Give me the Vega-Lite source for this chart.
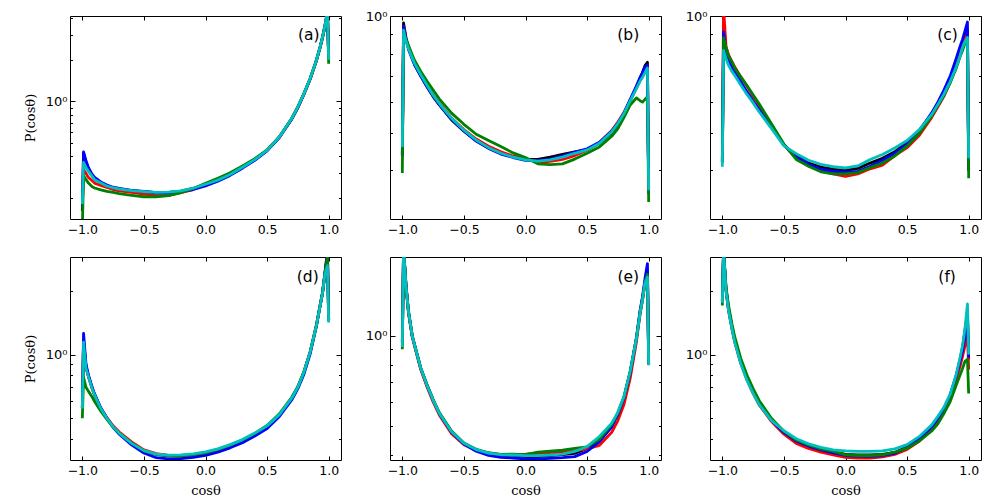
{
"$schema":"https://vega.github.io/schema/vega-lite/v6.json",
"autosize":{"type":"none"},
"padding":{"left":70,"top":16,"right":930,"bottom":484},
"datasets":{
"a":[
{"x":-1,"k":0.16,"r":0.17,"b":0.17,"g":0.12,"c":0.18},
{"x":-0.99,"k":0.42,"r":0.32,"b":0.43,"g":0.29,"c":0.36},
{"x":-0.97,"k":0.36,"r":0.3,"b":0.37,"g":0.27,"c":0.33},
{"x":-0.95,"k":0.32,"r":0.28,"b":0.33,"g":0.255,"c":0.31},
{"x":-0.92,"k":0.29,"r":0.265,"b":0.295,"g":0.24,"c":0.285},
{"x":-0.9,"k":0.275,"r":0.255,"b":0.28,"g":0.235,"c":0.27},
{"x":-0.85,"k":0.255,"r":0.245,"b":0.26,"g":0.228,"c":0.255},
{"x":-0.8,"k":0.243,"r":0.237,"b":0.247,"g":0.222,"c":0.243},
{"x":-0.75,"k":0.236,"r":0.229,"b":0.238,"g":0.218,"c":0.236},
{"x":-0.7,"k":0.231,"r":0.224,"b":0.233,"g":0.214,"c":0.231},
{"x":-0.6,"k":0.225,"r":0.218,"b":0.226,"g":0.208,"c":0.225},
{"x":-0.5,"k":0.221,"r":0.212,"b":0.222,"g":0.203,"c":0.221},
{"x":-0.4,"k":0.217,"r":0.207,"b":0.217,"g":0.203,"c":0.218},
{"x":-0.3,"k":0.218,"r":0.208,"b":0.216,"g":0.207,"c":0.219},
{"x":-0.2,"k":0.223,"r":0.217,"b":0.221,"g":0.217,"c":0.224},
{"x":-0.1,"k":0.233,"r":0.229,"b":0.229,"g":0.233,"c":0.234},
{"x":0,"k":0.249,"r":0.247,"b":0.243,"g":0.254,"c":0.25},
{"x":0.1,"k":0.268,"r":0.268,"b":0.263,"g":0.276,"c":0.268},
{"x":0.2,"k":0.295,"r":0.296,"b":0.29,"g":0.303,"c":0.294},
{"x":0.3,"k":0.333,"r":0.333,"b":0.327,"g":0.34,"c":0.332},
{"x":0.4,"k":0.378,"r":0.378,"b":0.373,"g":0.383,"c":0.377},
{"x":0.5,"k":0.44,"r":0.44,"b":0.437,"g":0.443,"c":0.44},
{"x":0.6,"k":0.55,"r":0.548,"b":0.545,"g":0.552,"c":0.55},
{"x":0.7,"k":0.75,"r":0.745,"b":0.74,"g":0.75,"c":0.75},
{"x":0.75,"k":0.91,"r":0.9,"b":0.9,"g":0.91,"c":0.91},
{"x":0.8,"k":1.14,"r":1.13,"b":1.13,"g":1.14,"c":1.14},
{"x":0.85,"k":1.46,"r":1.45,"b":1.45,"g":1.46,"c":1.46},
{"x":0.9,"k":1.98,"r":1.96,"b":1.97,"g":1.97,"c":1.98},
{"x":0.93,"k":2.47,"r":2.45,"b":2.46,"g":2.45,"c":2.47},
{"x":0.95,"k":2.92,"r":2.9,"b":2.9,"g":2.88,"c":2.92},
{"x":0.97,"k":3.55,"r":3.5,"b":3.52,"g":3.48,"c":3.55},
{"x":0.99,"k":4.5,"r":4.4,"b":4.45,"g":4.35,"c":4.4},
{"x":1,"k":2.05,"r":2.02,"b":2.04,"g":1.87,"c":2.0}
],
"b":[
{"x":-1,"k":0.44,"r":0.44,"b":0.434,"g":0.394,"c":0.46},
{"x":-0.99,"k":0.96,"r":0.94,"b":0.94,"g":0.9,"c":0.92},
{"x":-0.97,"k":0.88,"r":0.87,"b":0.87,"g":0.87,"c":0.86},
{"x":-0.95,"k":0.83,"r":0.83,"b":0.82,"g":0.84,"c":0.825},
{"x":-0.92,"k":0.78,"r":0.785,"b":0.775,"g":0.795,"c":0.78},
{"x":-0.9,"k":0.75,"r":0.755,"b":0.748,"g":0.768,"c":0.754},
{"x":-0.85,"k":0.7,"r":0.705,"b":0.7,"g":0.72,"c":0.706},
{"x":-0.8,"k":0.657,"r":0.663,"b":0.658,"g":0.68,"c":0.663},
{"x":-0.75,"k":0.62,"r":0.626,"b":0.622,"g":0.645,"c":0.625},
{"x":-0.7,"k":0.59,"r":0.596,"b":0.592,"g":0.612,"c":0.595},
{"x":-0.6,"k":0.54,"r":0.546,"b":0.542,"g":0.562,"c":0.545},
{"x":-0.5,"k":0.505,"r":0.51,"b":0.506,"g":0.526,"c":0.508},
{"x":-0.4,"k":0.477,"r":0.482,"b":0.476,"g":0.496,"c":0.479},
{"x":-0.3,"k":0.457,"r":0.462,"b":0.456,"g":0.478,"c":0.458},
{"x":-0.2,"k":0.443,"r":0.447,"b":0.441,"g":0.461,"c":0.443},
{"x":-0.1,"k":0.434,"r":0.436,"b":0.432,"g":0.444,"c":0.433},
{"x":0,"k":0.427,"r":0.428,"b":0.425,"g":0.432,"c":0.426},
{"x":0.1,"k":0.427,"r":0.42,"b":0.424,"g":0.416,"c":0.423},
{"x":0.2,"k":0.433,"r":0.422,"b":0.428,"g":0.414,"c":0.426},
{"x":0.3,"k":0.44,"r":0.427,"b":0.436,"g":0.416,"c":0.433},
{"x":0.4,"k":0.447,"r":0.437,"b":0.446,"g":0.428,"c":0.443},
{"x":0.5,"k":0.453,"r":0.451,"b":0.455,"g":0.443,"c":0.452},
{"x":0.6,"k":0.47,"r":0.472,"b":0.473,"g":0.46,"c":0.47},
{"x":0.7,"k":0.5,"r":0.507,"b":0.505,"g":0.49,"c":0.503},
{"x":0.75,"k":0.526,"r":0.533,"b":0.53,"g":0.513,"c":0.529},
{"x":0.8,"k":0.558,"r":0.565,"b":0.563,"g":0.548,"c":0.561},
{"x":0.85,"k":0.605,"r":0.608,"b":0.61,"g":0.59,"c":0.605},
{"x":0.9,"k":0.655,"r":0.652,"b":0.66,"g":0.615,"c":0.65},
{"x":0.93,"k":0.69,"r":0.682,"b":0.695,"g":0.605,"c":0.68},
{"x":0.95,"k":0.715,"r":0.7,"b":0.715,"g":0.6,"c":0.695},
{"x":0.97,"k":0.745,"r":0.725,"b":0.74,"g":0.61,"c":0.715},
{"x":0.99,"k":0.76,"r":0.745,"b":0.745,"g":0.62,"c":0.735},
{"x":1,"k":0.36,"r":0.355,"b":0.348,"g":0.332,"c":0.356}
],
"c":[
{"x":-1,"k":0.42,"r":0.43,"b":0.42,"g":0.42,"c":0.409},
{"x":-0.99,"k":0.857,"r":1.05,"b":0.91,"g":0.88,"c":0.816},
{"x":-0.97,"k":0.8,"r":0.835,"b":0.815,"g":0.83,"c":0.777},
{"x":-0.95,"k":0.765,"r":0.795,"b":0.77,"g":0.79,"c":0.747},
{"x":-0.92,"k":0.73,"r":0.76,"b":0.735,"g":0.76,"c":0.718},
{"x":-0.9,"k":0.712,"r":0.74,"b":0.718,"g":0.735,"c":0.704},
{"x":-0.85,"k":0.67,"r":0.697,"b":0.677,"g":0.697,"c":0.664},
{"x":-0.8,"k":0.633,"r":0.66,"b":0.638,"g":0.662,"c":0.628},
{"x":-0.75,"k":0.6,"r":0.62,"b":0.603,"g":0.627,"c":0.598},
{"x":-0.7,"k":0.57,"r":0.586,"b":0.573,"g":0.593,"c":0.566},
{"x":-0.6,"k":0.515,"r":0.524,"b":0.518,"g":0.527,"c":0.513},
{"x":-0.5,"k":0.466,"r":0.465,"b":0.465,"g":0.468,"c":0.463},
{"x":-0.4,"k":0.436,"r":0.43,"b":0.433,"g":0.427,"c":0.442},
{"x":-0.3,"k":0.418,"r":0.411,"b":0.415,"g":0.41,"c":0.425},
{"x":-0.2,"k":0.408,"r":0.399,"b":0.403,"g":0.397,"c":0.415},
{"x":-0.1,"k":0.403,"r":0.392,"b":0.398,"g":0.392,"c":0.409},
{"x":0,"k":0.4,"r":0.386,"b":0.396,"g":0.392,"c":0.406},
{"x":0.1,"k":0.405,"r":0.392,"b":0.398,"g":0.395,"c":0.411},
{"x":0.2,"k":0.418,"r":0.404,"b":0.41,"g":0.407,"c":0.427},
{"x":0.3,"k":0.43,"r":0.413,"b":0.425,"g":0.418,"c":0.44},
{"x":0.4,"k":0.447,"r":0.437,"b":0.443,"g":0.436,"c":0.457},
{"x":0.5,"k":0.473,"r":0.458,"b":0.468,"g":0.462,"c":0.478},
{"x":0.6,"k":0.508,"r":0.493,"b":0.505,"g":0.499,"c":0.51},
{"x":0.7,"k":0.561,"r":0.548,"b":0.563,"g":0.553,"c":0.558},
{"x":0.75,"k":0.595,"r":0.584,"b":0.6,"g":0.588,"c":0.592},
{"x":0.8,"k":0.634,"r":0.622,"b":0.645,"g":0.625,"c":0.63},
{"x":0.85,"k":0.686,"r":0.675,"b":0.7,"g":0.673,"c":0.678},
{"x":0.9,"k":0.755,"r":0.745,"b":0.78,"g":0.735,"c":0.74},
{"x":0.93,"k":0.81,"r":0.8,"b":0.835,"g":0.785,"c":0.79},
{"x":0.95,"k":0.845,"r":0.835,"b":0.87,"g":0.815,"c":0.83},
{"x":0.97,"k":0.88,"r":0.87,"b":0.915,"g":0.85,"c":0.86},
{"x":0.99,"k":0.92,"r":0.9,"b":0.965,"g":0.875,"c":0.88},
{"x":1,"k":0.4,"r":0.41,"b":0.4,"g":0.382,"c":0.43}
],
"d":[
{"x":-1,"k":0.56,"r":0.56,"b":0.56,"g":0.5,"c":0.556},
{"x":-0.99,"k":1.17,"r":1.15,"b":1.26,"g":0.78,"c":1.147},
{"x":-0.97,"k":0.88,"r":0.87,"b":0.9,"g":0.7,"c":0.86},
{"x":-0.95,"k":0.79,"r":0.785,"b":0.8,"g":0.67,"c":0.785},
{"x":-0.92,"k":0.695,"r":0.69,"b":0.7,"g":0.63,"c":0.69},
{"x":-0.9,"k":0.645,"r":0.643,"b":0.65,"g":0.6,"c":0.643},
{"x":-0.85,"k":0.556,"r":0.557,"b":0.56,"g":0.54,"c":0.556},
{"x":-0.8,"k":0.5,"r":0.503,"b":0.5,"g":0.494,"c":0.5},
{"x":-0.75,"k":0.455,"r":0.46,"b":0.453,"g":0.454,"c":0.455},
{"x":-0.7,"k":0.424,"r":0.43,"b":0.42,"g":0.425,"c":0.424},
{"x":-0.6,"k":0.38,"r":0.386,"b":0.374,"g":0.382,"c":0.38},
{"x":-0.5,"k":0.35,"r":0.354,"b":0.342,"g":0.35,"c":0.351},
{"x":-0.4,"k":0.337,"r":0.34,"b":0.325,"g":0.337,"c":0.338},
{"x":-0.3,"k":0.332,"r":0.333,"b":0.321,"g":0.332,"c":0.334},
{"x":-0.2,"k":0.331,"r":0.332,"b":0.322,"g":0.332,"c":0.335},
{"x":-0.1,"k":0.334,"r":0.335,"b":0.326,"g":0.336,"c":0.339},
{"x":0,"k":0.34,"r":0.341,"b":0.333,"g":0.343,"c":0.346},
{"x":0.1,"k":0.353,"r":0.353,"b":0.345,"g":0.356,"c":0.358},
{"x":0.2,"k":0.37,"r":0.37,"b":0.362,"g":0.373,"c":0.375},
{"x":0.3,"k":0.39,"r":0.391,"b":0.383,"g":0.394,"c":0.396},
{"x":0.4,"k":0.42,"r":0.42,"b":0.412,"g":0.423,"c":0.425},
{"x":0.5,"k":0.455,"r":0.456,"b":0.447,"g":0.462,"c":0.46},
{"x":0.6,"k":0.517,"r":0.518,"b":0.51,"g":0.525,"c":0.52},
{"x":0.7,"k":0.62,"r":0.62,"b":0.61,"g":0.628,"c":0.622},
{"x":0.75,"k":0.7,"r":0.7,"b":0.69,"g":0.707,"c":0.7},
{"x":0.8,"k":0.83,"r":0.83,"b":0.81,"g":0.835,"c":0.83},
{"x":0.85,"k":1.03,"r":1.03,"b":1.01,"g":1.03,"c":1.03},
{"x":0.9,"k":1.375,"r":1.37,"b":1.36,"g":1.37,"c":1.37},
{"x":0.93,"k":1.71,"r":1.7,"b":1.7,"g":1.7,"c":1.7},
{"x":0.95,"k":1.97,"r":1.96,"b":1.96,"g":1.95,"c":1.96},
{"x":0.97,"k":2.45,"r":2.43,"b":2.44,"g":2.42,"c":2.42},
{"x":0.99,"k":3.1,"r":2.95,"b":3.0,"g":2.9,"c":2.64},
{"x":1,"k":1.45,"r":1.45,"b":1.45,"g":1.45,"c":1.42}
],
"e":[
{"x":-1,"k":0.95,"r":0.93,"b":0.95,"g":0.9,"c":0.916},
{"x":-0.99,"k":1.95,"r":1.95,"b":1.95,"g":1.95,"c":1.95},
{"x":-0.97,"k":1.47,"r":1.46,"b":1.48,"g":1.45,"c":1.46},
{"x":-0.95,"k":1.2,"r":1.19,"b":1.2,"g":1.21,"c":1.2},
{"x":-0.92,"k":1.0,"r":0.99,"b":1.0,"g":1.0,"c":1.0},
{"x":-0.9,"k":0.928,"r":0.92,"b":0.93,"g":0.93,"c":0.928},
{"x":-0.85,"k":0.776,"r":0.768,"b":0.777,"g":0.779,"c":0.776},
{"x":-0.8,"k":0.683,"r":0.675,"b":0.683,"g":0.686,"c":0.683},
{"x":-0.75,"k":0.609,"r":0.6,"b":0.608,"g":0.612,"c":0.609},
{"x":-0.7,"k":0.55,"r":0.543,"b":0.549,"g":0.553,"c":0.55},
{"x":-0.6,"k":0.477,"r":0.47,"b":0.475,"g":0.48,"c":0.477},
{"x":-0.5,"k":0.436,"r":0.432,"b":0.434,"g":0.438,"c":0.437},
{"x":-0.4,"k":0.415,"r":0.414,"b":0.411,"g":0.417,"c":0.416},
{"x":-0.3,"k":0.404,"r":0.405,"b":0.398,"g":0.406,"c":0.405},
{"x":-0.2,"k":0.399,"r":0.4,"b":0.392,"g":0.401,"c":0.4},
{"x":-0.1,"k":0.398,"r":0.401,"b":0.39,"g":0.402,"c":0.399},
{"x":0,"k":0.394,"r":0.402,"b":0.387,"g":0.4,"c":0.397},
{"x":0.1,"k":0.394,"r":0.404,"b":0.387,"g":0.408,"c":0.397},
{"x":0.2,"k":0.397,"r":0.406,"b":0.389,"g":0.411,"c":0.399},
{"x":0.3,"k":0.4,"r":0.408,"b":0.391,"g":0.414,"c":0.402},
{"x":0.4,"k":0.404,"r":0.412,"b":0.394,"g":0.42,"c":0.41},
{"x":0.5,"k":0.42,"r":0.418,"b":0.41,"g":0.425,"c":0.426},
{"x":0.6,"k":0.448,"r":0.43,"b":0.442,"g":0.45,"c":0.46},
{"x":0.7,"k":0.502,"r":0.475,"b":0.495,"g":0.505,"c":0.51},
{"x":0.75,"k":0.55,"r":0.52,"b":0.545,"g":0.552,"c":0.555},
{"x":0.8,"k":0.624,"r":0.59,"b":0.62,"g":0.625,"c":0.627},
{"x":0.85,"k":0.757,"r":0.72,"b":0.75,"g":0.76,"c":0.76},
{"x":0.9,"k":0.977,"r":0.95,"b":0.98,"g":0.975,"c":0.975},
{"x":0.93,"k":1.2,"r":1.18,"b":1.21,"g":1.19,"c":1.19},
{"x":0.95,"k":1.33,"r":1.31,"b":1.35,"g":1.32,"c":1.32},
{"x":0.97,"k":1.51,"r":1.5,"b":1.55,"g":1.5,"c":1.5},
{"x":0.99,"k":1.63,"r":1.65,"b":1.74,"g":1.6,"c":1.57},
{"x":1,"k":0.8,"r":0.8,"b":0.82,"g":0.8,"c":0.796}
],
"f":[
{"x":-1,"k":1.8,"r":1.8,"b":1.8,"g":1.71,"c":1.76},
{"x":-0.99,"k":3.1,"r":3.1,"b":3.1,"g":3.1,"c":3.1},
{"x":-0.97,"k":2.05,"r":2.0,"b":2.05,"g":2.1,"c":2.0},
{"x":-0.95,"k":1.66,"r":1.62,"b":1.65,"g":1.72,"c":1.62},
{"x":-0.92,"k":1.34,"r":1.31,"b":1.33,"g":1.38,"c":1.31},
{"x":-0.9,"k":1.18,"r":1.15,"b":1.17,"g":1.22,"c":1.15},
{"x":-0.85,"k":0.925,"r":0.91,"b":0.92,"g":0.96,"c":0.905},
{"x":-0.8,"k":0.77,"r":0.76,"b":0.77,"g":0.8,"c":0.755},
{"x":-0.75,"k":0.667,"r":0.655,"b":0.665,"g":0.69,"c":0.655},
{"x":-0.7,"k":0.587,"r":0.577,"b":0.585,"g":0.605,"c":0.578},
{"x":-0.6,"k":0.49,"r":0.482,"b":0.488,"g":0.498,"c":0.487},
{"x":-0.5,"k":0.431,"r":0.42,"b":0.428,"g":0.434,"c":0.436},
{"x":-0.4,"k":0.394,"r":0.38,"b":0.39,"g":0.394,"c":0.4},
{"x":-0.3,"k":0.373,"r":0.36,"b":0.369,"g":0.374,"c":0.378},
{"x":-0.2,"k":0.358,"r":0.345,"b":0.354,"g":0.358,"c":0.364},
{"x":-0.1,"k":0.347,"r":0.335,"b":0.343,"g":0.348,"c":0.354},
{"x":0,"k":0.337,"r":0.326,"b":0.333,"g":0.335,"c":0.35},
{"x":0.1,"k":0.335,"r":0.324,"b":0.331,"g":0.333,"c":0.348},
{"x":0.2,"k":0.335,"r":0.324,"b":0.33,"g":0.333,"c":0.348},
{"x":0.3,"k":0.337,"r":0.328,"b":0.333,"g":0.335,"c":0.35},
{"x":0.4,"k":0.344,"r":0.337,"b":0.341,"g":0.345,"c":0.358},
{"x":0.5,"k":0.366,"r":0.356,"b":0.363,"g":0.36,"c":0.375},
{"x":0.6,"k":0.401,"r":0.39,"b":0.4,"g":0.39,"c":0.41},
{"x":0.7,"k":0.455,"r":0.44,"b":0.455,"g":0.435,"c":0.465},
{"x":0.75,"k":0.5,"r":0.485,"b":0.5,"g":0.47,"c":0.51},
{"x":0.8,"k":0.556,"r":0.54,"b":0.556,"g":0.527,"c":0.565},
{"x":0.85,"k":0.643,"r":0.625,"b":0.645,"g":0.6,"c":0.65},
{"x":0.9,"k":0.8,"r":0.77,"b":0.8,"g":0.72,"c":0.81},
{"x":0.93,"k":0.95,"r":0.88,"b":0.93,"g":0.8,"c":0.97},
{"x":0.95,"k":1.08,"r":0.98,"b":1.04,"g":0.86,"c":1.1},
{"x":0.97,"k":1.3,"r":1.1,"b":1.22,"g":0.93,"c":1.33},
{"x":0.99,"k":1.6,"r":1.25,"b":1.5,"g":0.95,"c":1.74},
{"x":1,"k":0.95,"r":0.85,"b":0.97,"g":0.655,"c":1.0}
]
},
"columns":3,
"bounds":"flush",
"spacing":{"row":38,"column":49},
"concat":[
{"width":271,"height":203,"resolve":{"axis":{"x":"independent","y":"independent"}},
"layer":[
{"data":{"name":"a"},"transform":[{"fold":["k","r","b","g","c"],"as":["s","P"]}],
"mark":{"type":"line","clip":true,"strokeWidth":2.8,"strokeJoin":"round"},
"encoding":{
"x":{"field":"x","type":"quantitative","scale":{"domain":[-1.1,1.1],"nice":false,"zero":false},"axis":{"orient":"bottom","values":[-1,-0.5,0,0.5,1],"format":".1f","title":null}},
"y":{"field":"P","type":"quantitative","scale":{"type":"log","domain":[0.14,4.15],"nice":false},"axis":{"orient":"left","values":[0.2,0.3,0.4,0.5,0.6,0.7,0.8,0.9,1,2,3,4],"title":"P(cosθ)"}},
"color":{"field":"s","type":"nominal","sort":null,"scale":{"domain":["k","r","b","g","c"],"range":["#000000","#ff0000","#0000ff","#008000","#00bfbf"]},"legend":null}}},
{"data":{"values":[{}]},"mark":{"type":"text","font":"DejaVu Sans","fontSize":15.5,"align":"center","baseline":"middle","color":"black"},
"encoding":{
"x":{"datum":0.838,"type":"quantitative","scale":{"domain":[-1.1,1.1],"nice":false,"zero":false},"axis":{"orient":"top","values":[-1,-0.5,0,0.5,1],"labels":false,"title":null}},
"y":{"datum":3.0,"type":"quantitative","scale":{"type":"log","domain":[0.14,4.15],"nice":false},"axis":{"orient":"right","values":[0.2,0.3,0.4,0.5,0.6,0.7,0.8,0.9,1,2,3,4],"labels":false,"title":null}},
"text":{"value":"(a)"}}}
]},
{"width":271,"height":203,"resolve":{"axis":{"x":"independent","y":"independent"}},
"layer":[
{"data":{"name":"b"},"transform":[{"fold":["k","r","b","g","c"],"as":["s","P"]}],
"mark":{"type":"line","clip":true,"strokeWidth":2.8,"strokeJoin":"round"},
"encoding":{
"x":{"field":"x","type":"quantitative","scale":{"domain":[-1.1,1.1],"nice":false,"zero":false},"axis":{"orient":"bottom","values":[-1,-0.5,0,0.5,1],"format":".1f","title":null}},
"y":{"field":"P","type":"quantitative","scale":{"type":"log","domain":[0.3,1.0],"nice":false},"axis":{"orient":"left","values":[0.4,0.5,0.6,0.7,0.8,0.9,1],"title":null}},
"color":{"field":"s","type":"nominal","sort":null,"scale":{"domain":["k","r","b","g","c"],"range":["#000000","#ff0000","#0000ff","#008000","#00bfbf"]},"legend":null}}},
{"data":{"values":[{}]},"mark":{"type":"text","font":"DejaVu Sans","fontSize":15.5,"align":"center","baseline":"middle","color":"black"},
"encoding":{
"x":{"datum":0.834,"type":"quantitative","scale":{"domain":[-1.1,1.1],"nice":false,"zero":false},"axis":{"orient":"top","values":[-1,-0.5,0,0.5,1],"labels":false,"title":null}},
"y":{"datum":0.892,"type":"quantitative","scale":{"type":"log","domain":[0.3,1.0],"nice":false},"axis":{"orient":"right","values":[0.4,0.5,0.6,0.7,0.8,0.9,1],"labels":false,"title":null}},
"text":{"value":"(b)"}}}
]},
{"width":271,"height":203,"resolve":{"axis":{"x":"independent","y":"independent"}},
"layer":[
{"data":{"name":"c"},"transform":[{"fold":["k","r","b","g","c"],"as":["s","P"]}],
"mark":{"type":"line","clip":true,"strokeWidth":2.8,"strokeJoin":"round"},
"encoding":{
"x":{"field":"x","type":"quantitative","scale":{"domain":[-1.1,1.1],"nice":false,"zero":false},"axis":{"orient":"bottom","values":[-1,-0.5,0,0.5,1],"format":".1f","title":null}},
"y":{"field":"P","type":"quantitative","scale":{"type":"log","domain":[0.3,1.0],"nice":false},"axis":{"orient":"left","values":[0.4,0.5,0.6,0.7,0.8,0.9,1],"title":null}},
"color":{"field":"s","type":"nominal","sort":null,"scale":{"domain":["k","r","b","g","c"],"range":["#000000","#ff0000","#0000ff","#008000","#00bfbf"]},"legend":null}}},
{"data":{"values":[{}]},"mark":{"type":"text","font":"DejaVu Sans","fontSize":15.5,"align":"center","baseline":"middle","color":"black"},
"encoding":{
"x":{"datum":0.828,"type":"quantitative","scale":{"domain":[-1.1,1.1],"nice":false,"zero":false},"axis":{"orient":"top","values":[-1,-0.5,0,0.5,1],"labels":false,"title":null}},
"y":{"datum":0.892,"type":"quantitative","scale":{"type":"log","domain":[0.3,1.0],"nice":false},"axis":{"orient":"right","values":[0.4,0.5,0.6,0.7,0.8,0.9,1],"labels":false,"title":null}},
"text":{"value":"(c)"}}}
]},
{"width":271,"height":203,"resolve":{"axis":{"x":"independent","y":"independent"}},
"layer":[
{"data":{"name":"d"},"transform":[{"fold":["k","r","b","g","c"],"as":["s","P"]}],
"mark":{"type":"line","clip":true,"strokeWidth":2.8,"strokeJoin":"round"},
"encoding":{
"x":{"field":"x","type":"quantitative","scale":{"domain":[-1.1,1.1],"nice":false,"zero":false},"axis":{"orient":"bottom","values":[-1,-0.5,0,0.5,1],"format":".1f","title":"cosθ"}},
"y":{"field":"P","type":"quantitative","scale":{"type":"log","domain":[0.317,2.9],"nice":false},"axis":{"orient":"left","values":[0.4,0.5,0.6,0.7,0.8,0.9,1,2],"title":"P(cosθ)"}},
"color":{"field":"s","type":"nominal","sort":null,"scale":{"domain":["k","r","b","g","c"],"range":["#000000","#ff0000","#0000ff","#008000","#00bfbf"]},"legend":null}}},
{"data":{"values":[{}]},"mark":{"type":"text","font":"DejaVu Sans","fontSize":15.5,"align":"center","baseline":"middle","color":"black"},
"encoding":{
"x":{"datum":0.83,"type":"quantitative","scale":{"domain":[-1.1,1.1],"nice":false,"zero":false},"axis":{"orient":"top","values":[-1,-0.5,0,0.5,1],"labels":false,"title":null}},
"y":{"datum":2.32,"type":"quantitative","scale":{"type":"log","domain":[0.317,2.9],"nice":false},"axis":{"orient":"right","values":[0.4,0.5,0.6,0.7,0.8,0.9,1,2],"labels":false,"title":null}},
"text":{"value":"(d)"}}}
]},
{"width":271,"height":203,"resolve":{"axis":{"x":"independent","y":"independent"}},
"layer":[
{"data":{"name":"e"},"transform":[{"fold":["k","r","b","g","c"],"as":["s","P"]}],
"mark":{"type":"line","clip":true,"strokeWidth":2.8,"strokeJoin":"round"},
"encoding":{
"x":{"field":"x","type":"quantitative","scale":{"domain":[-1.1,1.1],"nice":false,"zero":false},"axis":{"orient":"bottom","values":[-1,-0.5,0,0.5,1],"format":".1f","title":"cosθ"}},
"y":{"field":"P","type":"quantitative","scale":{"type":"log","domain":[0.384,1.83],"nice":false},"axis":{"orient":"left","values":[0.4,0.5,0.6,0.7,0.8,0.9,1],"title":null}},
"color":{"field":"s","type":"nominal","sort":null,"scale":{"domain":["k","r","b","g","c"],"range":["#000000","#ff0000","#0000ff","#008000","#00bfbf"]},"legend":null}}},
{"data":{"values":[{}]},"mark":{"type":"text","font":"DejaVu Sans","fontSize":15.5,"align":"center","baseline":"middle","color":"black"},
"encoding":{
"x":{"datum":0.834,"type":"quantitative","scale":{"domain":[-1.1,1.1],"nice":false,"zero":false},"axis":{"orient":"top","values":[-1,-0.5,0,0.5,1],"labels":false,"title":null}},
"y":{"datum":1.57,"type":"quantitative","scale":{"type":"log","domain":[0.384,1.83],"nice":false},"axis":{"orient":"right","values":[0.4,0.5,0.6,0.7,0.8,0.9,1],"labels":false,"title":null}},
"text":{"value":"(e)"}}}
]},
{"width":271,"height":203,"resolve":{"axis":{"x":"independent","y":"independent"}},
"layer":[
{"data":{"name":"f"},"transform":[{"fold":["k","r","b","g","c"],"as":["s","P"]}],
"mark":{"type":"line","clip":true,"strokeWidth":2.8,"strokeJoin":"round"},
"encoding":{
"x":{"field":"x","type":"quantitative","scale":{"domain":[-1.1,1.1],"nice":false,"zero":false},"axis":{"orient":"bottom","values":[-1,-0.5,0,0.5,1],"format":".1f","title":"cosθ"}},
"y":{"field":"P","type":"quantitative","scale":{"type":"log","domain":[0.317,2.9],"nice":false},"axis":{"orient":"left","values":[0.4,0.5,0.6,0.7,0.8,0.9,1,2],"title":null}},
"color":{"field":"s","type":"nominal","sort":null,"scale":{"domain":["k","r","b","g","c"],"range":["#000000","#ff0000","#0000ff","#008000","#00bfbf"]},"legend":null}}},
{"data":{"values":[{}]},"mark":{"type":"text","font":"DejaVu Sans","fontSize":15.5,"align":"center","baseline":"middle","color":"black"},
"encoding":{
"x":{"datum":0.825,"type":"quantitative","scale":{"domain":[-1.1,1.1],"nice":false,"zero":false},"axis":{"orient":"top","values":[-1,-0.5,0,0.5,1],"labels":false,"title":null}},
"y":{"datum":2.32,"type":"quantitative","scale":{"type":"log","domain":[0.317,2.9],"nice":false},"axis":{"orient":"right","values":[0.4,0.5,0.6,0.7,0.8,0.9,1,2],"labels":false,"title":null}},
"text":{"value":"(f)"}}}
]}
],
"config":{
"view":{"stroke":"black","strokeWidth":1},
"axis":{"domain":false,"grid":false,"tickColor":"black","tickWidth":1,"labelColor":"black","labelFont":"DejaVu Sans","labelFontSize":12.5,"labelFlush":false,"labelOverlap":false,"labelPadding":8,"tickSize":-4,"titleFont":"DejaVu Serif","titleFontSize":13,"titleFontWeight":"normal","titleColor":"black","titlePadding":8},
"axisY":{"labelExpr":"datum.value == 1 ? '10⁰' : ''","labelFontSize":13,"tickSize":{"condition":{"test":"datum.value == 1 || datum.value == 10","value":-5},"value":-2.5}}
}
}
